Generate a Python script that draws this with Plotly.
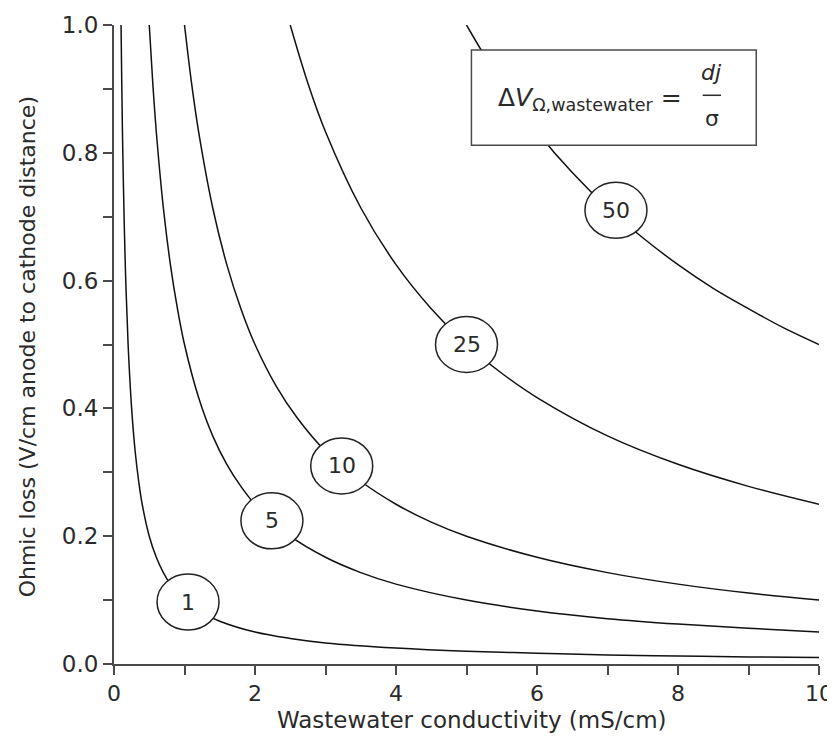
import plotly.graph_objects as go

# Curve labels (current density j)
labels = ["1", "5", "10", "25", "50"]

# Conductivity (mS/cm) and ohmic loss (V/cm)
x_j1 = [0.10, 0.11, 0.12, 0.13, 0.15, 0.17, 0.2, 0.25, 0.3, 0.35, 0.4, 0.5, 0.6, 0.7, 0.8,
        1.0, 1.2, 1.5, 2, 2.5, 3, 4, 5, 6, 7, 8, 9, 10]
y_j1 = [1.0, 0.909, 0.833, 0.769, 0.667, 0.588, 0.5, 0.4, 0.333, 0.286, 0.25, 0.2, 0.167, 0.143, 0.125,
        0.1, 0.083, 0.067, 0.05, 0.04, 0.033, 0.025, 0.02, 0.017, 0.014, 0.0125, 0.011, 0.01]

x_j5 = [0.5, 0.55, 0.6, 0.7, 0.8, 0.9, 1.0, 1.2, 1.4, 1.6, 1.8, 2.0, 2.5, 3, 3.5, 4, 5, 6, 7, 8, 9, 10]
y_j5 = [1.0, 0.909, 0.833, 0.714, 0.625, 0.556, 0.5, 0.417, 0.357, 0.3125, 0.278, 0.25, 0.2, 0.167,
        0.143, 0.125, 0.1, 0.083, 0.071, 0.0625, 0.056, 0.05]

x_j10 = [1.0, 1.1, 1.2, 1.4, 1.6, 1.8, 2.0, 2.3, 2.6, 3.0, 3.5, 4, 4.5, 5, 6, 7, 8, 9, 10]
y_j10 = [1.0, 0.909, 0.833, 0.714, 0.625, 0.556, 0.5, 0.435, 0.385, 0.333, 0.286, 0.25, 0.222, 0.2,
         0.167, 0.143, 0.125, 0.111, 0.1]

x_j25 = [2.5, 2.75, 3.0, 3.5, 4.0, 4.5, 5.0, 5.5, 6, 7, 8, 9, 10]
y_j25 = [1.0, 0.909, 0.833, 0.714, 0.625, 0.556, 0.5, 0.455, 0.417, 0.357, 0.3125, 0.278, 0.25]

x_j50 = [5.0, 5.5, 6.0, 6.5, 7.0, 7.5, 8.0, 8.5, 9.0, 9.5, 10]
y_j50 = [1.0, 0.909, 0.833, 0.769, 0.714, 0.667, 0.625, 0.588, 0.556, 0.526, 0.5]

# Label positions on the curves
label_x = [1.05, 2.24, 3.23, 5.0, 7.12]
label_y = [0.097, 0.224, 0.31, 0.5, 0.71]

# Axis ticks
x_ticks = [0, 2, 4, 6, 8, 10]
x_minor = [1, 3, 5, 7, 9]
y_ticks = [0, 0.2, 0.4, 0.6, 0.8, 1.0]
y_minor = [0.1, 0.3, 0.5, 0.7, 0.9]

xs = [x_j1, x_j5, x_j10, x_j25, x_j50]
ys = [y_j1, y_j5, y_j10, y_j25, y_j50]

FONT = "DejaVu Sans"
TXT = "#2a2a2a"
AX = "#4a4a4a"

fig = go.Figure()
for x, y, lab in zip(xs, ys, labels):
    fig.add_trace(go.Scatter(x=x, y=y, mode="lines", line=dict(color="#111111", width=1.5, shape="spline"),
                             name=lab, showlegend=False, hoverinfo="skip"))

shapes = []
annotations = []
for lx, ly, lab in zip(label_x, label_y, labels):
    shapes.append(dict(type="circle", xref="x", yref="y", xsizemode="pixel", ysizemode="pixel",
                       xanchor=lx, yanchor=ly, x0=-31, x1=31, y0=-28, y1=28,
                       fillcolor="white", line=dict(color="#222222", width=1.5), layer="above"))
    annotations.append(dict(x=lx, y=ly, xref="x", yref="y", text=lab, showarrow=False,
                            font=dict(family=FONT, size=22, color=TXT)))

# Equation box
shapes.append(dict(type="rect", xref="x", yref="y", x0=5.07, x1=9.11, y0=0.812, y1=0.961,
                   fillcolor="white", line=dict(color=AX, width=1.5), layer="above"))
shapes.append(dict(type="line", xref="x", yref="y", x0=8.35, x1=8.61, y0=0.890, y1=0.890,
                   line=dict(color=TXT, width=1.5), layer="above"))
annotations.append(dict(x=8.08, y=0.884, xref="x", yref="y", xanchor="right", showarrow=False,
                        text="Δ<i>V</i><sub>Ω,wastewater</sub> =",
                        font=dict(family=FONT, size=25, color=TXT)))
annotations.append(dict(x=8.48, y=0.925, xref="x", yref="y", showarrow=False, text="<i>dj</i>",
                        font=dict(family=FONT, size=22, color=TXT)))
annotations.append(dict(x=8.48, y=0.853, xref="x", yref="y", showarrow=False, text="σ",
                        font=dict(family=FONT, size=22, color=TXT)))

# Axis titles
annotations.append(dict(x=0.508, y=-0.088, xref="paper", yref="paper", showarrow=False,
                        xanchor="center", yanchor="middle",
                        text="Wastewater conductivity (mS/cm)",
                        font=dict(family=FONT, size=23, color=TXT)))
annotations.append(dict(x=-0.123, y=0.496, xref="paper", yref="paper", showarrow=False, textangle=-90,
                        xanchor="center", yanchor="middle",
                        text="Ohmic loss (V/cm anode to cathode distance)",
                        font=dict(family=FONT, size=22, color=TXT)))

fig.update_layout(
    width=835, height=736,
    margin=dict(l=106, r=24, t=17, b=80),
    plot_bgcolor="white", paper_bgcolor="white",
    font=dict(family=FONT, size=22, color=TXT),
    shapes=shapes, annotations=annotations,
    xaxis=dict(range=[0, 10], showgrid=False, zeroline=False, showline=True, linecolor=AX, linewidth=2,
               automargin=False,
               ticks="outside", ticklen=9, tickwidth=1.5, tickcolor=AX, tickvals=x_ticks,
               minor=dict(tickvals=x_minor, ticks="outside", ticklen=9, tickwidth=1.5, tickcolor=AX),
               tickfont=dict(family=FONT, size=22, color=TXT)),
    yaxis=dict(range=[0, 1], showgrid=False, zeroline=False, showline=True, linecolor=AX, linewidth=2,
               automargin=False,
               ticks="outside", ticklen=9, tickwidth=1.5, tickcolor=AX, tickvals=y_ticks,
               tickformat=".1f",
               minor=dict(tickvals=y_minor, ticks="outside", ticklen=9, tickwidth=1.5, tickcolor=AX),
               tickfont=dict(family=FONT, size=23, color=TXT)),
)

fig.write_html("out.html")
